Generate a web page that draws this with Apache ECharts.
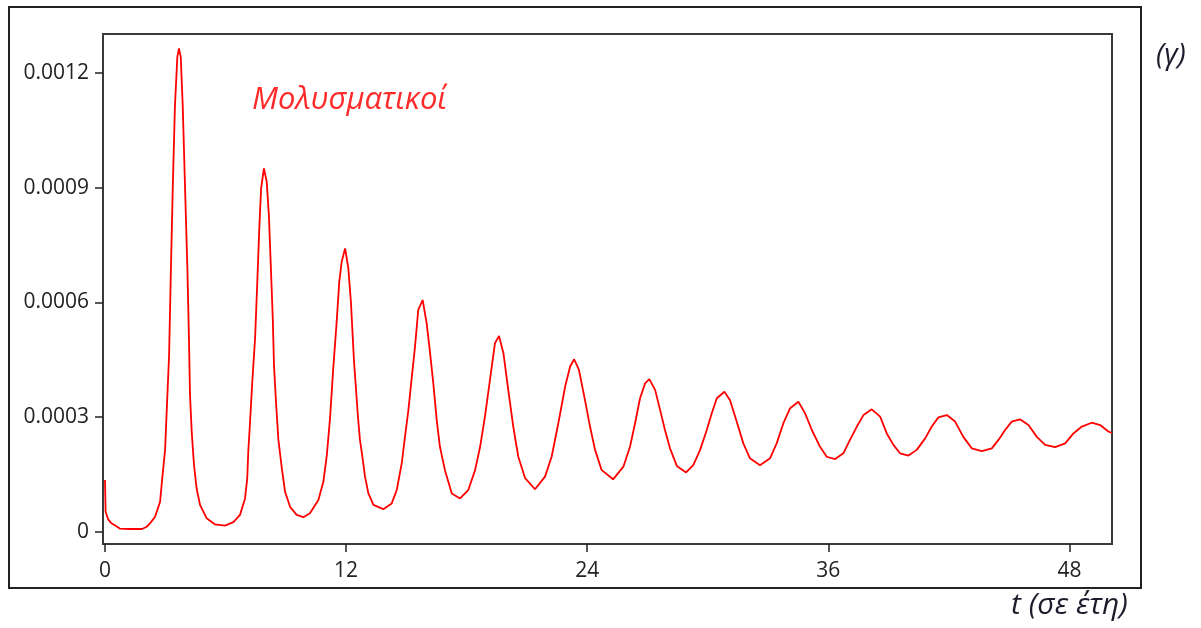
<!DOCTYPE html>
<html>
<head>
<meta charset="utf-8">
<script src="https://cdn.jsdelivr.net/npm/echarts@6/dist/echarts.min.js"></script>
<style>
html,body{margin:0;padding:0;background:#fff;}
#chart{width:1201px;height:628px;}
</style>
</head>
<body>
<div id="chart"></div>
<script>
// time in years
const tYears = [0,0.03,0.15,0.3,0.55,0.75,1.25,1.84,2.08,2.29,2.49,2.74,2.85,2.99,3.07,3.19,3.27,3.37,3.48,3.60,3.68,3.77,3.87,3.98,4.10,4.18,4.23,4.32,4.43,4.56,4.73,5.06,5.48,5.97,6.39,6.72,6.97,7.08,7.13,7.22,7.33,7.47,7.58,7.68,7.77,7.91,8.05,8.16,8.25,8.35,8.41,8.51,8.63,8.80,8.96,9.21,9.54,9.87,10.20,10.62,10.87,11.04,11.20,11.36,11.53,11.66,11.78,11.95,12.11,12.24,12.39,12.59,12.69,12.81,12.94,13.11,13.36,13.85,14.27,14.52,14.77,14.93,15.10,15.27,15.43,15.59,15.81,16.01,16.18,16.34,16.51,16.67,16.92,17.26,17.67,18.08,18.42,18.67,18.91,19.16,19.41,19.61,19.83,20.07,20.32,20.57,20.91,21.40,21.90,22.23,22.56,22.90,23.15,23.35,23.59,23.89,24.14,24.39,24.72,25.29,25.80,26.13,26.38,26.63,26.88,27.09,27.38,27.63,27.87,28.12,28.46,28.92,29.28,29.62,29.95,30.20,30.45,30.83,31.11,31.44,31.77,32.10,32.60,33.10,33.43,33.76,34.10,34.51,34.84,35.18,35.59,35.92,36.34,36.75,37.08,37.42,37.75,38.16,38.58,38.91,39.24,39.57,39.99,40.40,40.82,41.15,41.48,41.90,42.31,42.72,43.14,43.64,44.14,44.47,44.80,45.13,45.54,45.96,46.38,46.79,47.29,47.79,48.20,48.62,49.11,49.53,49.94,50.12];
// infected fraction
const infected = [1.35e-4,5.2e-5,3.3e-5,2.3e-5,1.5e-5,8e-6,7e-6,7e-6,1.3e-5,2.5e-5,3.9e-5,7.8e-5,1.4e-4,2.14e-4,3.14e-4,4.62e-4,6.63e-4,8.94e-4,1.112e-3,1.242e-3,1.264e-3,1.242e-3,1.112e-3,9.07e-4,6.89e-4,5.01e-4,3.58e-4,2.57e-4,1.74e-4,1.13e-4,7.0e-5,3.5e-5,1.9e-5,1.6e-5,2.5e-5,4.4e-5,8.7e-5,1.4e-4,2.09e-4,2.88e-4,3.92e-4,5.06e-4,6.54e-4,7.94e-4,8.98e-4,9.5e-4,9.15e-4,8.24e-4,6.98e-4,5.58e-4,4.36e-4,3.4e-4,2.4e-4,1.66e-4,1.05e-4,6.5e-5,4.4e-5,3.8e-5,4.8e-5,8.3e-5,1.31e-4,2.0e-4,2.97e-4,4.27e-4,5.49e-4,6.54e-4,7.06e-4,7.41e-4,6.89e-4,6.0e-4,4.49e-4,3.0e-4,2.4e-4,1.96e-4,1.44e-4,1.0e-4,7.0e-5,5.9e-5,7.4e-5,1.09e-4,1.79e-4,2.48e-4,3.18e-4,4.05e-4,4.84e-4,5.8e-4,6.06e-4,5.45e-4,4.67e-4,3.88e-4,2.92e-4,2.22e-4,1.61e-4,1.0e-4,8.7e-5,1.09e-4,1.61e-4,2.22e-4,3.01e-4,3.97e-4,4.93e-4,5.12e-4,4.67e-4,3.71e-4,2.75e-4,1.96e-4,1.4e-4,1.11e-4,1.44e-4,1.96e-4,2.83e-4,3.79e-4,4.32e-4,4.51e-4,4.23e-4,3.44e-4,2.75e-4,2.14e-4,1.61e-4,1.37e-4,1.7e-4,2.22e-4,2.83e-4,3.49e-4,3.88e-4,3.99e-4,3.71e-4,3.18e-4,2.66e-4,2.18e-4,1.72e-4,1.55e-4,1.74e-4,2.14e-4,2.66e-4,3.1e-4,3.49e-4,3.66e-4,3.44e-4,2.88e-4,2.31e-4,1.92e-4,1.74e-4,1.92e-4,2.31e-4,2.83e-4,3.23e-4,3.4e-4,3.1e-4,2.66e-4,2.22e-4,1.96e-4,1.9e-4,2.05e-4,2.4e-4,2.75e-4,3.05e-4,3.2e-4,3.01e-4,2.57e-4,2.27e-4,2.05e-4,1.99e-4,2.14e-4,2.44e-4,2.75e-4,2.99e-4,3.05e-4,2.88e-4,2.48e-4,2.18e-4,2.11e-4,2.18e-4,2.4e-4,2.66e-4,2.88e-4,2.94e-4,2.79e-4,2.48e-4,2.27e-4,2.21e-4,2.31e-4,2.57e-4,2.75e-4,2.85e-4,2.79e-4,2.62e-4,2.58e-4];
const xTicks = [0, 12, 24, 36, 48];
const xTickLabels = ['0', '12', '24', '36', '48'];
const yTicks = [0, 0.0003, 0.0006, 0.0009, 0.0012];
const yTickLabels = ['0', '0.0003', '0.0006', '0.0009', '0.0012'];
const seriesLabel = 'Μολυσματικοί';
const panelLabel = '(γ)';
const xTitle = 't (σε έτη)';

const data = tYears.map((t, i) => [t, infected[i]]);
function nearestLabel(v, ticks, labels) {
  let best = 0, bd = Infinity;
  ticks.forEach((t, i) => { const d = Math.abs(t - v); if (d < bd) { bd = d; best = i; } });
  return labels[best];
}
const chart = echarts.init(document.getElementById('chart'), null, {renderer: 'canvas'});
const font = '"Open Sans", "DejaVu Sans", sans-serif';
chart.setOption({
  animation: false,
  backgroundColor: '#fff',
  grid: {left: 103, top: 34, right: 89, bottom: 84, show: true, borderColor: '#3a3a3a', borderWidth: 2},
  xAxis: {
    type: 'value', min: -0.1, max: 50.12,
    splitLine: {show: false},
    axisLine: {show: true, onZero: false, lineStyle: {color: '#3a3a3a', width: 2}},
    axisTick: {show: true, length: 8, customValues: xTicks, lineStyle: {color: '#222', width: 1.5}},
    axisLabel: {show: true, margin: 17, customValues: xTicks, color: '#222', fontFamily: font, fontSize: 21,
      formatter: v => nearestLabel(v, xTicks, xTickLabels)}
  },
  yAxis: {
    type: 'value', min: -0.0000322, max: 0.0013017,
    splitLine: {show: false},
    axisLine: {show: true, onZero: false, lineStyle: {color: '#3a3a3a', width: 2}},
    axisTick: {show: true, length: 8, customValues: yTicks, lineStyle: {color: '#222', width: 1.5}},
    axisLabel: {show: true, margin: 14, customValues: yTicks, color: '#222', fontFamily: font, fontSize: 21,
      formatter: v => nearestLabel(v, yTicks, yTickLabels)}
  },
  series: [{
    type: 'line', data: data, showSymbol: false, smooth: false,
    lineStyle: {color: '#ff0000', width: 1.8}, z: 3
  }],
  graphic: [
    {type: 'rect', shape: {x: 9, y: 7, width: 1132, height: 581}, style: {fill: 'none', stroke: '#222', lineWidth: 2}, silent: true},
    {type: 'text', left: 252, top: 85, style: {text: seriesLabel, fill: '#ff2b2b', font: 'italic 31px ' + font}},
    {type: 'text', left: 1156, top: 41, style: {text: panelLabel, fill: '#1c1c2c', font: 'italic 29px ' + font}},
    {type: 'text', left: 1011, top: 590, style: {text: xTitle, fill: '#1c1c2c', font: 'italic 30px ' + font}}
  ]
});
</script>
</body>
</html>
